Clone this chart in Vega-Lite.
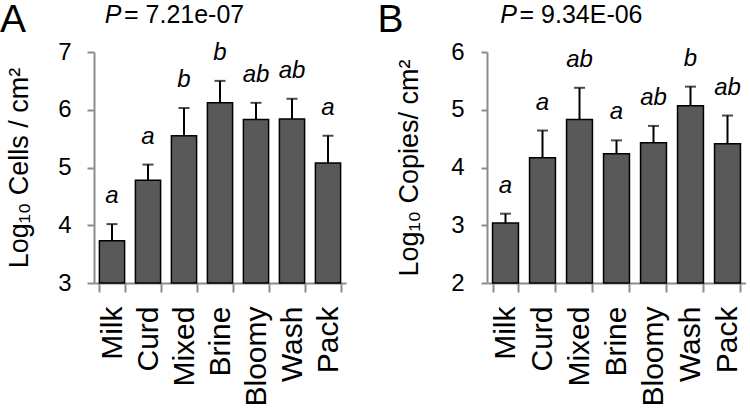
{
  "$schema": "https://vega.github.io/schema/vega-lite/v6.json",
  "padding": {"left": 0, "top": 0, "right": 0, "bottom": 0},
  "spacing": 31,
  "config": {
    "view": {"stroke": null},
    "font": "Liberation Sans",
    "axis": {
      "domainColor": "#8c8c8c",
      "domainWidth": 2,
      "tickColor": "#8c8c8c",
      "tickWidth": 2,
      "labelColor": "#000000",
      "titleColor": "#000000",
      "labelFont": "Liberation Sans",
      "titleFont": "Liberation Sans",
      "titleFontWeight": "normal",
      "grid": false
    }
  },
  "hconcat": [
    {
      "width": 252,
      "height": 231,
      "data": {"values": [
        {"sample": "Milk", "mean": 3.73, "upper": 4.02, "group": "a"},
        {"sample": "Curd", "mean": 4.78, "upper": 5.05, "group": "a"},
        {"sample": "Mixed", "mean": 5.55, "upper": 6.03, "group": "b"},
        {"sample": "Brine", "mean": 6.12, "upper": 6.50, "group": "b"},
        {"sample": "Bloomy", "mean": 5.83, "upper": 6.12, "group": "ab"},
        {"sample": "Wash", "mean": 5.84, "upper": 6.19, "group": "ab"},
        {"sample": "Pack", "mean": 5.08, "upper": 5.55, "group": "a"}
      ]},
      "encoding": {
        "x": {
          "field": "sample", "type": "nominal",
          "sort": ["Milk", "Curd", "Mixed", "Brine", "Bloomy", "Wash", "Pack"],
          "scale": {"paddingInner": 0.3, "paddingOuter": 0.15},
          "axis": {"title": null, "labelAngle": -90, "labelAlign": "right", "labelBaseline": "middle", "labelFontSize": 30, "tickBand": "extent", "tickSize": 9, "labelPadding": 14}
        }
      },
      "layer": [
        {
          "mark": {"type": "bar", "fill": "#595959", "stroke": "#000000", "strokeWidth": 1.5},
          "encoding": {
            "y": {
              "field": "mean", "type": "quantitative",
              "scale": {"domain": [3, 7], "zero": false, "nice": false},
              "axis": {"values": [3, 4, 5, 6, 7], "format": "d", "title": "Log₁₀ Cells / cm²", "titleFontSize": 27, "titlePadding": 24, "labelFontSize": 24, "labelPadding": 16, "tickSize": 7}
            },
            "y2": {"datum": 3}
          }
        },
        {
          "mark": {"type": "rule", "strokeWidth": 2, "color": "#000000"},
          "encoding": {"y": {"field": "mean", "type": "quantitative"}, "y2": {"field": "upper"}}
        },
        {
          "mark": {"type": "tick", "size": 11, "thickness": 2, "color": "#000000"},
          "encoding": {"y": {"field": "upper", "type": "quantitative"}}
        },
        {
          "mark": {"type": "text", "fontStyle": "italic", "fontSize": 24, "dy": -28, "baseline": "middle", "color": "#000000"},
          "encoding": {"y": {"field": "upper", "type": "quantitative"}, "text": {"field": "group"}}
        },
        {
          "data": {"values": [{"sample": "Milk", "label": "A"}]},
          "mark": {"type": "text", "fontSize": 39, "align": "left", "baseline": "middle", "dx": -112, "color": "#000000"},
          "encoding": {"y": {"datum": 7.56, "type": "quantitative"}, "text": {"field": "label"}}
        },
        {
          "data": {"values": [{"sample": "Milk", "label": "P"}]},
          "mark": {"type": "text", "fontSize": 25, "fontStyle": "italic", "align": "center", "baseline": "middle", "dx": 1, "color": "#000000"},
          "encoding": {"y": {"datum": 7.64, "type": "quantitative"}, "text": {"field": "label"}}
        },
        {
          "data": {"values": [{"sample": "Milk", "label": "= 7.21e-07"}]},
          "mark": {"type": "text", "fontSize": 25, "align": "left", "baseline": "middle", "dx": 12, "color": "#000000"},
          "encoding": {"y": {"datum": 7.64, "type": "quantitative"}, "text": {"field": "label"}}
        }
      ]
    },
    {
      "width": 259,
      "height": 231,
      "data": {"values": [
        {"sample": "Milk", "mean": 3.04, "upper": 3.20, "group": "a"},
        {"sample": "Curd", "mean": 4.17, "upper": 4.64, "group": "a"},
        {"sample": "Mixed", "mean": 4.83, "upper": 5.38, "group": "ab"},
        {"sample": "Brine", "mean": 4.24, "upper": 4.47, "group": "a"},
        {"sample": "Bloomy", "mean": 4.43, "upper": 4.72, "group": "ab"},
        {"sample": "Wash", "mean": 5.07, "upper": 5.40, "group": "b"},
        {"sample": "Pack", "mean": 4.41, "upper": 4.90, "group": "ab"}
      ]},
      "encoding": {
        "x": {
          "field": "sample", "type": "nominal",
          "sort": ["Milk", "Curd", "Mixed", "Brine", "Bloomy", "Wash", "Pack"],
          "scale": {"paddingInner": 0.3, "paddingOuter": 0.15},
          "axis": {"title": null, "labelAngle": -90, "labelAlign": "right", "labelBaseline": "middle", "labelFontSize": 30, "tickBand": "extent", "tickSize": 9, "labelPadding": 14}
        }
      },
      "layer": [
        {
          "mark": {"type": "bar", "fill": "#595959", "stroke": "#000000", "strokeWidth": 1.5},
          "encoding": {
            "y": {
              "field": "mean", "type": "quantitative",
              "scale": {"domain": [2, 6], "zero": false, "nice": false},
              "axis": {"values": [2, 3, 4, 5, 6], "format": "d", "title": "Log₁₀ Copies/ cm²", "titleFontSize": 27, "titlePadding": 27, "labelFontSize": 24, "labelPadding": 17, "tickSize": 6}
            },
            "y2": {"datum": 2}
          }
        },
        {
          "mark": {"type": "rule", "strokeWidth": 2, "color": "#000000"},
          "encoding": {"y": {"field": "mean", "type": "quantitative"}, "y2": {"field": "upper"}}
        },
        {
          "mark": {"type": "tick", "size": 11, "thickness": 2, "color": "#000000"},
          "encoding": {"y": {"field": "upper", "type": "quantitative"}}
        },
        {
          "mark": {"type": "text", "fontStyle": "italic", "fontSize": 24, "dy": -28, "baseline": "middle", "color": "#000000"},
          "encoding": {"y": {"field": "upper", "type": "quantitative"}, "text": {"field": "group"}}
        },
        {
          "data": {"values": [{"sample": "Milk", "label": "B"}]},
          "mark": {"type": "text", "fontSize": 39, "align": "left", "baseline": "middle", "dx": -128, "color": "#000000"},
          "encoding": {"y": {"datum": 6.56, "type": "quantitative"}, "text": {"field": "label"}}
        },
        {
          "data": {"values": [{"sample": "Milk", "label": "P"}]},
          "mark": {"type": "text", "fontSize": 25, "fontStyle": "italic", "align": "center", "baseline": "middle", "dx": 3, "color": "#000000"},
          "encoding": {"y": {"datum": 6.64, "type": "quantitative"}, "text": {"field": "label"}}
        },
        {
          "data": {"values": [{"sample": "Milk", "label": "= 9.34E-06"}]},
          "mark": {"type": "text", "fontSize": 25, "align": "left", "baseline": "middle", "dx": 14, "color": "#000000"},
          "encoding": {"y": {"datum": 6.64, "type": "quantitative"}, "text": {"field": "label"}}
        }
      ]
    }
  ]
}
